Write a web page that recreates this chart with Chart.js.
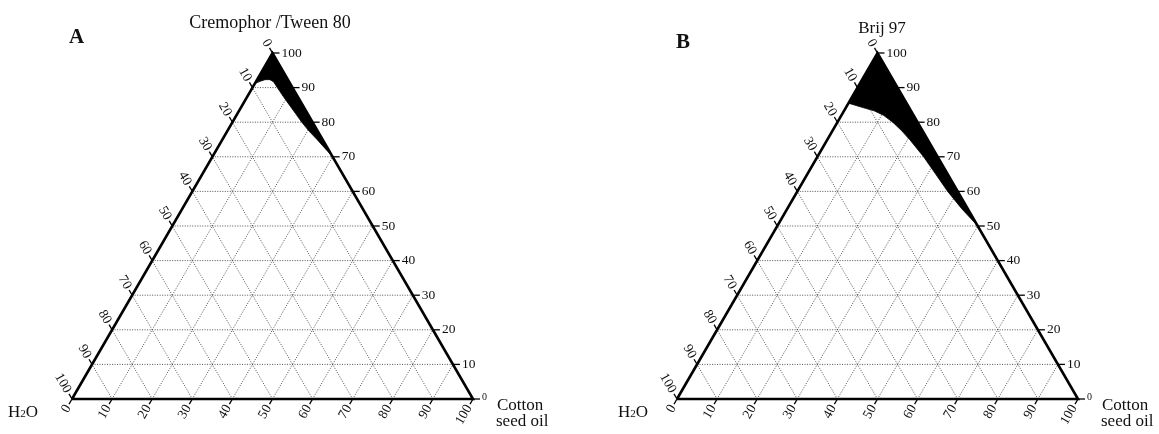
<!DOCTYPE html>
<html lang="en">
<head>
<meta charset="utf-8">
<title>Pseudo-ternary phase diagrams</title>
<script src="https://cdn.jsdelivr.net/npm/chart.js@4.4.1/dist/chart.umd.min.js"></script>
<style>
    body {
        margin: 0;
        background: #fff;
    }

    #wrap {
        position: relative;
        width: 1159px;
        height: 434px;
    }

    canvas {
        position: absolute;
        top: 0;
    }

    #chartA { left: 0; }
    #chartB { left: 580px; }
</style>
</head>
<body>
<div id="wrap">
    <canvas id="chartA" width="580" height="434"></canvas>
    <canvas id="chartB" width="579" height="434"></canvas>
</div>

<script>
    // axis ticks and grid steps (percent)
    const tickValues = [0, 10, 20, 30, 40, 50, 60, 70, 80, 90, 100];
    const gridValues = [10, 20, 30, 40, 50, 60, 70, 80, 90];

    // black (microemulsion) regions: % surfactant and % oil, water is the rest
    const regionA_surf = [100, 91.2, 91.8, 92.3, 92.3, 91.7, 90, 87.5, 85, 82.5, 80, 77.5, 75, 72.5, 70, 100];
    const regionA_oil  = [0, 0, 1, 2, 3.2, 4.4, 6.2, 8.9, 11.7, 14.5, 17.3, 20.3, 23.6, 26.8, 30, 0];
    const regionB_surf = [100, 85.5, 84.3, 83.3, 82, 80, 77.5, 75, 70, 65, 60, 55, 50, 100];
    const regionB_oil  = [0, 0, 4, 7.5, 10.5, 13.8, 17.3, 20.5, 26.5, 32, 37.5, 43.5, 50, 0];

    const panelLetters = ['A', 'B'];
    const surfactantNames = ['Cremophor /Tween 80', 'Brij 97'];
    const waterLabel = ['H', '2', 'O'];
    const oilLabel = ['Cotton', 'seed oil'];

    const S3 = Math.sqrt(3) / 2;
    const serif = '"Liberation Serif", "Times New Roman", serif';

    // ternary (surfactant, oil) -> plane coordinates on 0..100 scales
    function toXY(surf, oil) {
        return { x: oil + surf / 2, y: surf };
    }

    function segment(s1, o1, s2, o2) {
        return [toXY(s1, o1), toXY(s2, o2)];
    }

    function gridDatasets() {
        const sets = [];
        gridValues.forEach(v => {
            sets.push(segment(v, 0, v, 100 - v));     // constant surfactant
            sets.push(segment(0, v, 100 - v, v));     // constant oil
            sets.push(segment(0, 100 - v, 100 - v, 0)); // constant water
        });
        return sets.map(d => ({
            data: d,
            borderColor: '#3c3c3c',
            borderWidth: 0.9,
            borderDash: [1, 1.5],
            pointRadius: 0,
            order: 2
        }));
    }

    const ternaryLabels = {
        id: 'ternaryLabels',
        afterDraw(chart, args, opts) {
            const ctx = chart.ctx;
            const sx = chart.scales.x, sy = chart.scales.y;
            const at = (s, o) => {
                const p = toXY(s, o);
                return [sx.getPixelForValue(p.x), sy.getPixelForValue(p.y)];
            };
            const font = (size, bold) => (bold ? 'bold ' : '') + size + 'px ' + serif;
            const line = (x1, y1, x2, y2) => {
                ctx.beginPath();
                ctx.moveTo(x1, y1);
                ctx.lineTo(x2, y2);
                ctx.stroke();
            };
            const rotText = (txt, x, y, angle) => {
                ctx.save();
                ctx.translate(x, y);
                ctx.rotate(angle);
                ctx.textAlign = 'right';
                ctx.textBaseline = 'middle';
                ctx.fillText(txt, 0, 0);
                ctx.restore();
            };

            ctx.save();
            ctx.strokeStyle = '#000';
            ctx.fillStyle = '#111';
            ctx.lineWidth = 1.3;

            tickValues.forEach(v => {
                // right side: surfactant
                let [x, y] = at(v, 100 - v);
                line(x, y, x + 7, y);
                ctx.font = font(v === 0 ? 10 : 13.5);
                ctx.textAlign = 'left';
                ctx.textBaseline = 'middle';
                ctx.fillText(String(v), x + 9, v === 0 ? y - 1.5 : y);

                // left side: water
                ctx.font = font(13.5);
                [x, y] = at(100 - v, 0);
                line(x, y, x - 0.5 * 6, y - S3 * 6);
                rotText(String(v), x - 0.5 * 8, y - S3 * 8, Math.PI / 3);

                // bottom: oil
                [x, y] = at(0, v);
                line(x, y, x - 0.5 * 6, y + S3 * 6);
                rotText(String(v), x - 0.5 * 8, y + S3 * 8, -Math.PI / 3);
            });

            // panel letter and surfactant name
            ctx.textBaseline = 'alphabetic';
            ctx.textAlign = 'left';
            ctx.font = font(21, true);
            ctx.fillText(opts.letter, opts.letterX, opts.letterY);
            ctx.textAlign = 'center';
            ctx.font = font(opts.titleSize);
            ctx.fillText(opts.title, opts.titleX, opts.titleY);

            // water corner
            let [bx, by] = at(0, 0);
            let wx = bx - opts.waterGap - 32;
            ctx.textAlign = 'left';
            ctx.font = font(17);
            ctx.fillText(waterLabel[0], wx, by + 18);
            wx += ctx.measureText(waterLabel[0]).width;
            ctx.font = font(11);
            ctx.fillText(waterLabel[1], wx, by + 18);
            wx += ctx.measureText(waterLabel[1]).width;
            ctx.font = font(17);
            ctx.fillText(waterLabel[2], wx, by + 18);

            // oil corner
            [bx, by] = at(0, 100);
            ctx.font = font(17);
            ctx.fillText(oilLabel[0], bx + 24, by + 11);
            ctx.fillText(oilLabel[1], bx + 23, by + 27);

            ctx.restore();
        }
    };

    function makeChart(id, idx, surf, oil, padding, text) {
        const region = surf.map((s, i) => toXY(s, oil[i]));
        const outline = [toXY(0, 0), toXY(0, 100), toXY(100, 0), toXY(0, 0)];

        return new Chart(document.getElementById(id), {
            type: 'line',
            data: {
                datasets: [
                    {
                        data: outline,
                        borderColor: '#000',
                        borderWidth: 2.6,
                        borderJoinStyle: 'miter',
                        pointRadius: 0,
                        fill: false,
                        clip: false,
                        order: 0
                    },
                    {
                        data: region,
                        borderColor: '#000',
                        borderWidth: 0.8,
                        backgroundColor: '#000',
                        pointRadius: 0,
                        fill: 'shape',
                        clip: false,
                        order: 1
                    },
                    ...gridDatasets()
                ]
            },
            options: {
                responsive: false,
                animation: false,
                events: [],
                layout: { padding: padding },
                scales: {
                    x: { type: 'linear', min: 0, max: 100, display: false },
                    y: { type: 'linear', min: 0, max: 100, display: false }
                },
                plugins: {
                    legend: { display: false },
                    tooltip: { enabled: false },
                    ternaryLabels: Object.assign({
                        letter: panelLetters[idx],
                        title: surfactantNames[idx]
                    }, text)
                }
            },
            plugins: [ternaryLabels]
        });
    }

    makeChart('chartA', 0, regionA_surf, regionA_oil,
        { left: 72, top: 53, right: 107, bottom: 35 },
        { letterX: 69, letterY: 43, titleX: 270, titleY: 28, titleSize: 18, waterGap: 32 });

    makeChart('chartB', 1, regionB_surf, regionB_oil,
        { left: 97, top: 53, right: 81, bottom: 35 },
        { letterX: 96, letterY: 48, titleX: 302, titleY: 33, titleSize: 17, waterGap: 27 });
</script>
</body>
</html>
